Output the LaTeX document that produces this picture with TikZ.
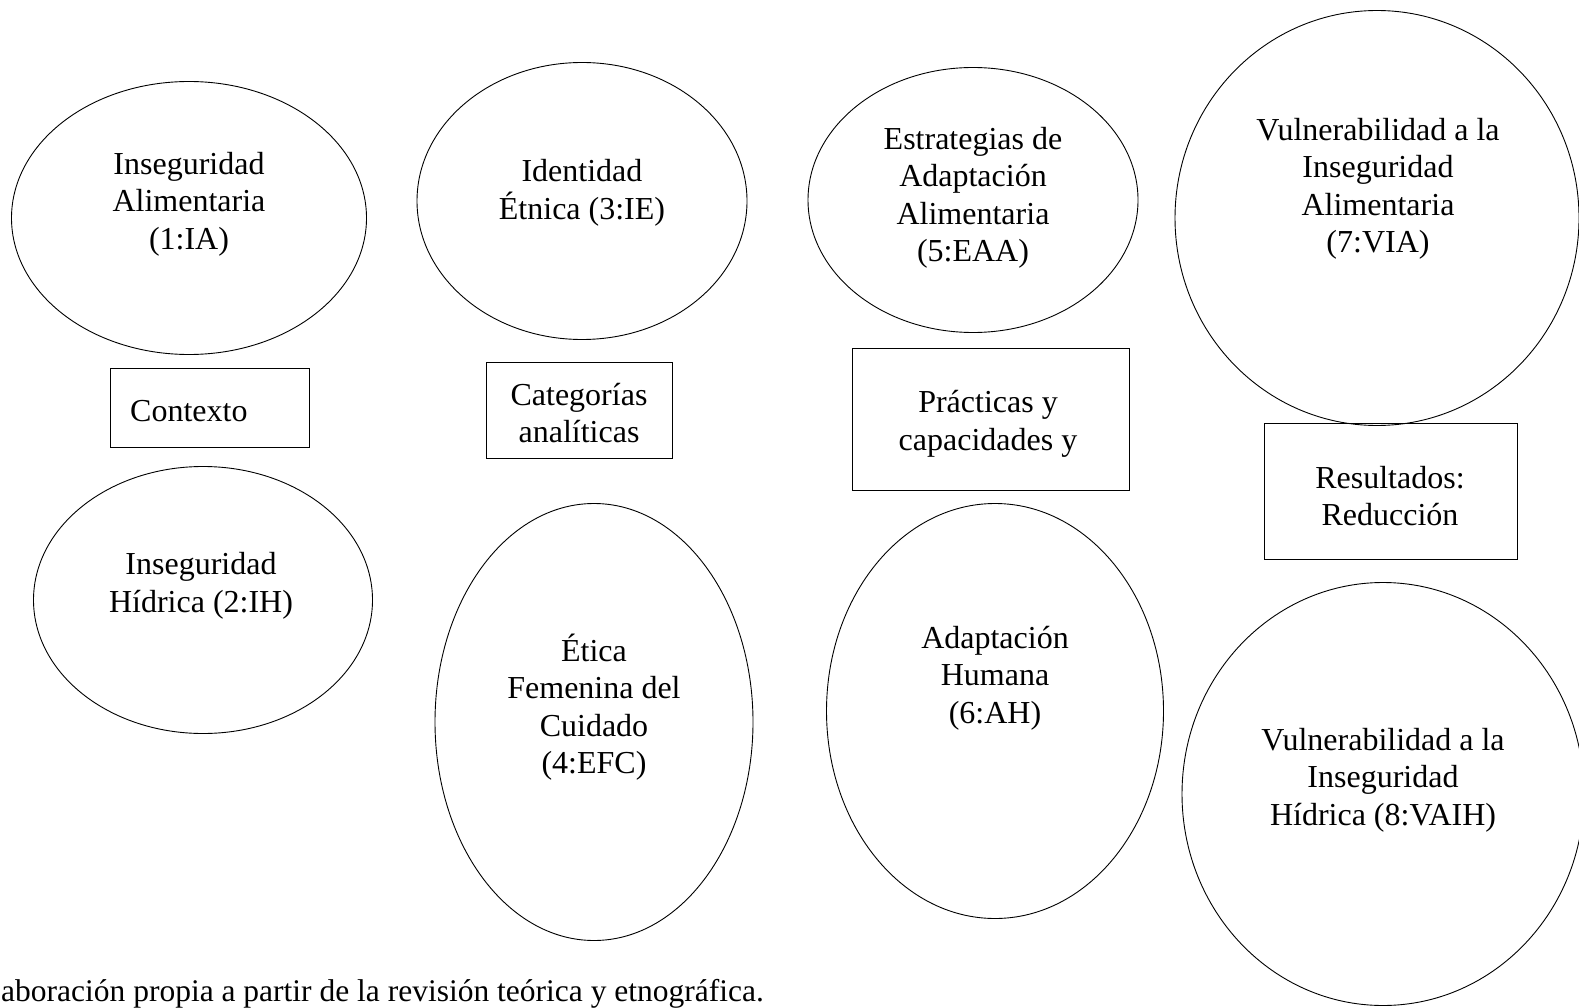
\documentclass[tikz,border=0pt]{standalone}
\usepackage{fontspec}
\setmainfont{Liberation Serif}
\usetikzlibrary{shapes.geometric}
\begin{document}
\begin{tikzpicture}[x=1pt,y=-1pt,
  oval/.style={draw=black,line width=0.9pt,ellipse,inner sep=0pt},
  frame/.style={draw=black,line width=0.9pt,rectangle,inner sep=0pt},
  txt/.style={align=center,inner sep=0pt,font=\fontsize{32}{37.5}\selectfont}]
\useasboundingbox (0,0) rectangle (1579,1008);
% ellipses
\node[oval,minimum width=355pt,minimum height=273pt] (e1) at (189,218) {};
\node[oval,minimum width=339pt,minimum height=267pt] (e2) at (203,600) {};
\node[oval,minimum width=330pt,minimum height=277pt] (e3) at (582,201) {};
\node[oval,minimum width=318pt,minimum height=437pt] (e4) at (594,722) {};
\node[oval,minimum width=330pt,minimum height=265pt] (e5) at (973,200) {};
\node[oval,minimum width=337pt,minimum height=415pt] (e6) at (995,711) {};
\node[oval,minimum width=404pt,minimum height=415pt] (e7) at (1377,218) {};
\node[oval,minimum width=402pt,minimum height=423pt] (e8) at (1383,794) {};
% boxes
\node[frame,minimum width=199pt,minimum height=79pt] (b1) at (209.5,407.5) {};
\node[frame,minimum width=186pt,minimum height=96pt] (b2) at (579,410) {};
\node[frame,minimum width=277pt,minimum height=142pt] (b3) at (990.5,419) {};
\node[frame,minimum width=253pt,minimum height=136pt] (b4) at (1390.5,491) {};
% texts
\node[txt] (t1) at (189,204) {Inseguridad\\Alimentaria\\(1:IA)};
\node[txt,anchor=west] (tb1) at (130,411) {Contexto};
\node[txt] (t2) at (201,586) {Inseguridad\\Hídrica (2:IH)};
\node[txt] (t3) at (582,193) {Identidad\\Étnica (3:IE)};
\node[txt] (tb2) at (579,413) {Categorías\\analíticas};
\node[txt] (t4) at (594,707) {Ética\\Femenina del\\Cuidado\\(4:EFC)};
\node[txt] (t5) at (973,198) {Estrategias de\\Adaptación\\Alimentaria\\(5:EAA)};
\node[txt] (tb3) at (988,424) {Prácticas y\\capacidades y};
\node[txt] (t6) at (995,678) {Adaptación\\Humana\\(6:AH)};
\node[txt] (t7) at (1378,189) {Vulnerabilidad a la\\Inseguridad\\Alimentaria\\(7:VIA)};
\node[txt] (tb4) at (1390,496) {Resultados:\\Reducción};
\node[txt] (t8) at (1383,780) {Vulnerabilidad a la\\Inseguridad\\Hídrica (8:VAIH)};
\node[txt,anchor=west,font=\fontsize{31.5}{37.5}\selectfont] (cap) at (1,994) {aboración propia a partir de la revisión teórica y etnográfica.};
\end{tikzpicture}
\end{document}
